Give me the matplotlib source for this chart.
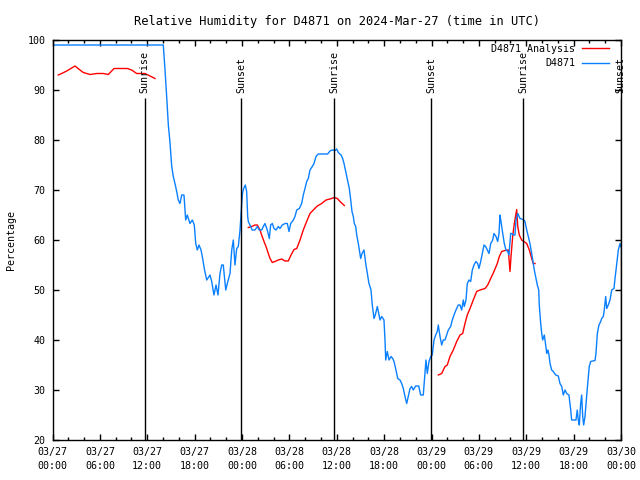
import matplotlib
matplotlib.use('Agg')
import matplotlib.pyplot as plt
import matplotlib.dates as mdates
import numpy as np
import pandas as pd

# Observed relative humidity (hours after 2024-03-27 00:00 UTC, %)
obs_hours = [0.00, 14.03, 14.25, 14.46, 14.67, 14.88, 15.10, 15.30, 15.51, 15.73, 15.93,
             16.15, 16.36, 16.65, 16.87, 17.07, 17.41, 17.71, 17.96, 18.14, 18.34, 18.55,
             18.81, 19.02, 19.22, 19.53, 19.95, 20.16, 20.45, 20.71, 20.96, 21.21, 21.43,
             21.63, 21.94, 22.14, 22.48, 22.70, 22.90, 23.11, 23.33, 23.53, 23.75, 23.94,
             24.06, 24.21, 24.42, 24.59, 24.72, 24.80, 25.10, 25.30, 25.65, 25.94, 26.19,
             26.49, 26.70, 26.91, 27.20, 27.46, 27.63, 27.84, 28.05, 28.31, 28.60, 28.81,
             29.10, 29.45, 29.74, 29.95, 30.17, 30.50, 30.71, 30.93, 31.26, 31.56, 31.76,
             31.98, 32.19, 32.40, 32.61, 32.90, 33.12, 33.37, 33.66, 34.13, 34.85, 35.14,
             35.44, 35.78, 35.99, 36.20, 36.54, 36.75, 36.92, 37.13, 37.34, 37.59, 37.77,
             37.93, 38.10, 38.22, 38.40, 38.53, 38.73, 38.86, 39.03, 39.20, 39.45, 39.67,
             39.87, 40.08, 40.34, 40.50, 40.72, 40.88, 41.14, 41.31, 41.48, 41.69, 41.98,
             42.11, 42.20, 42.40, 42.62, 42.87, 43.09, 43.25, 43.50, 43.72, 44.01, 44.22,
             44.43, 44.64, 44.86, 45.06, 45.28, 45.49, 45.69, 46.00, 46.38, 46.63, 46.96,
             47.18, 47.30, 47.47, 47.68, 47.90, 48.10, 48.32, 48.53, 48.73, 48.86, 49.08,
             49.29, 49.49, 49.71, 49.92, 50.13, 50.43, 50.63, 50.85, 51.10, 51.39, 51.61,
             51.82, 52.03, 52.15, 52.37, 52.53, 52.75, 52.96, 53.17, 53.38, 53.63, 53.85,
             54.01, 54.23, 54.48, 54.65, 54.86, 55.07, 55.28, 55.50, 55.75, 55.91, 56.17,
             56.38, 56.55, 56.67, 56.80, 57.02, 57.22, 57.43, 57.65, 57.81, 58.03, 58.19,
             58.36, 58.57, 58.70, 58.92, 59.21, 59.63, 59.84, 60.06, 60.26, 60.47, 60.69,
             60.89, 61.02, 61.19, 61.40, 61.58, 61.65, 61.83, 61.96, 62.08, 62.29, 62.46,
             62.59, 62.75, 62.88, 63.01, 63.22, 63.42, 63.73, 64.06, 64.27, 64.49, 64.69,
             64.91, 65.12, 65.41, 65.63, 65.75, 66.30, 66.46, 66.59, 66.72, 66.89, 67.02,
             67.15, 67.27, 67.44, 67.57, 67.73, 67.86, 67.98, 68.16, 68.71, 68.83, 69.00,
             69.21, 69.43, 69.55, 69.76, 69.88, 70.06, 70.19, 70.39, 70.61, 70.82, 71.11,
             71.24, 71.37, 71.53, 71.66, 71.88, 71.96]
obs_rh = [99.0, 99.0, 94.0, 88.7, 83.0, 79.5, 74.7, 72.7, 71.3, 69.7, 68.0,
          67.3, 69.0, 69.0, 64.0, 65.0, 63.3, 64.0, 63.0, 59.3, 58.0, 59.0,
          58.0, 56.3, 54.3, 52.0, 53.0, 51.7, 49.0, 51.0, 49.0, 53.3, 55.0,
          55.0, 50.0, 51.3, 53.3, 58.0, 60.0, 55.0, 58.3, 58.7, 62.0, 66.7,
          69.3, 70.3, 71.0, 69.7, 64.7, 63.7, 62.7, 62.0, 62.0, 62.7, 62.0,
          62.0, 62.7, 63.3, 62.0, 60.3, 63.0, 63.3, 62.3, 62.0, 62.7, 62.3,
          63.0, 63.3, 63.3, 61.7, 63.3, 64.0, 64.7, 66.0, 66.3, 67.3, 69.0,
          70.3, 71.7, 72.3, 74.0, 74.7, 75.3, 76.7, 77.2, 77.2, 77.2, 77.8,
          78.0, 77.9, 78.2, 77.5, 77.0, 76.3, 75.3, 73.7, 72.0, 70.3, 68.0,
          65.7, 64.7, 63.3, 62.7, 61.0, 59.3, 58.0, 56.3, 57.3, 58.0, 55.3,
          53.3, 51.3, 50.0, 47.0, 44.3, 45.0, 46.7, 45.3, 44.0, 44.7, 44.0,
          40.0, 36.0, 37.7, 36.0, 36.7, 36.3, 35.7, 34.0, 32.3, 32.0, 31.3,
          30.3, 28.7, 27.3, 28.7, 30.3, 30.7, 30.0, 30.8, 30.8, 29.0, 29.0,
          33.5, 36.0, 33.3, 35.7, 36.7, 37.0, 40.0, 41.0, 41.7, 43.0, 40.7,
          39.0, 40.0, 40.0, 41.0, 42.0, 42.7, 44.0, 45.0, 46.0, 47.0, 47.0,
          46.0, 48.0, 46.7, 48.0, 51.3, 52.0, 51.7, 54.0, 55.0, 55.7, 55.3,
          54.3, 55.7, 57.7, 59.0, 58.7, 58.0, 57.3, 59.3, 60.0, 61.3, 60.7,
          59.7, 61.3, 65.0, 63.7, 61.3, 59.3, 58.0, 57.7, 57.0, 61.3, 61.3,
          61.0, 61.0, 64.0, 65.3, 64.3, 64.1, 63.7, 62.0, 60.7, 59.3, 57.3,
          55.3, 54.0, 52.7, 51.0, 50.0, 47.0, 43.3, 41.3, 40.0, 41.0, 39.0,
          37.3, 38.0, 37.0, 35.3, 34.0, 33.7, 33.0, 32.8, 31.3, 30.7, 29.0,
          30.0, 29.3, 29.0, 26.0, 24.0, 24.0, 26.0, 24.0, 23.0, 27.3, 29.0,
          24.7, 23.0, 24.7, 27.3, 30.3, 32.7, 34.7, 35.7, 35.9, 37.3, 41.3,
          43.0, 43.7, 44.3, 44.7, 46.0, 48.7, 46.3, 47.0, 48.0, 50.0, 50.3,
          52.3, 54.0, 56.3, 58.0, 59.3, 58.7]

# Analysis relative humidity (three separate runs)
ana1_hours = [0.73, 1.16, 1.80, 2.85, 3.40, 3.90, 4.75, 5.60, 6.44, 7.07, 7.79,
              9.48, 10.03, 10.66, 11.71, 12.35, 12.98]
ana1_rh = [93.0, 93.3, 93.8, 94.8, 94.1, 93.5, 93.1, 93.3, 93.3, 93.1, 94.3,
           94.3, 94.0, 93.3, 93.3, 92.8, 92.3]
ana2_hours = [24.80, 25.23, 25.65, 25.94, 26.28, 26.49, 26.79, 27.04, 27.33, 27.55,
              27.84, 28.18, 28.60, 29.03, 29.45, 29.86, 30.21, 30.59, 30.93, 31.35,
              31.76, 32.19, 32.61, 33.03, 33.54, 34.09, 34.64, 35.14, 35.69, 36.07,
              36.41, 36.96]
ana2_rh = [62.5, 62.7, 63.0, 63.0, 62.0, 61.0, 59.7, 58.7, 57.3, 56.3,
           55.5, 55.7, 56.0, 56.2, 55.8, 55.8, 57.0, 58.1, 58.3, 60.0,
           62.0, 63.7, 65.3, 66.0, 66.8, 67.3, 68.0, 68.2, 68.5, 68.3,
           67.7, 66.9]
ana3_hours = [48.86, 49.29, 49.71, 50.00, 50.34, 50.76, 51.19, 51.61, 51.95, 52.24,
              52.53, 52.88, 53.29, 53.72, 54.14, 54.78, 55.12, 55.50, 55.91, 56.33,
              56.59, 56.89, 57.31, 57.73, 57.94, 58.07, 58.28, 58.49, 58.79, 58.92,
              59.12, 59.42, 59.71, 60.06, 60.39, 60.69, 60.89, 61.11]
ana3_rh = [33.0, 33.3, 34.7, 35.0, 36.7, 38.0, 39.7, 41.0, 41.3, 43.3,
           45.0, 46.3, 48.0, 49.7, 50.0, 50.3, 51.0, 52.3, 53.7, 55.3,
           56.7, 57.7, 57.9, 58.0, 53.7, 56.7, 60.7, 63.3, 66.1, 62.7,
           61.0, 60.0, 59.7, 59.3, 58.0, 56.3, 55.3, 55.3]

# Sun events
event_hours = [11.68, 23.91, 35.69, 47.97, 59.63, 71.98]
event_labels = ['Sunrise', 'Sunset', 'Sunrise', 'Sunset', 'Sunrise', 'Sunset']

base = pd.Timestamp('2024-03-27 00:00')


def to_time(hours):
    return base + pd.to_timedelta(np.asarray(hours), unit='h')


plt.rcParams['font.family'] = ['DejaVu Sans Mono']
plt.rcParams['font.size'] = 7.2

fig = plt.figure(figsize=(6.4, 4.8), dpi=100)
ax = fig.add_axes([52.5 / 640, 40 / 480, (621 - 52.5) / 640, 400 / 480])

red = '#ff0000'
blue = '#0a80ff'
ax.plot(to_time(ana1_hours), ana1_rh, color=red, lw=1.0, label='D4871 Analysis')
ax.plot(to_time(ana2_hours), ana2_rh, color=red, lw=1.0)
ax.plot(to_time(ana3_hours), ana3_rh, color=red, lw=1.0)
ax.plot(to_time(obs_hours), obs_rh, color=blue, lw=1.0, label='D4871')

for h, lab in zip(event_hours, event_labels):
    t = to_time([h])[0]
    ax.vlines(t, 20, 88.3, color='black', lw=1.0)
    ax.text(t, 89.3, lab, rotation=90, ha='center', va='bottom', clip_on=False)

ax.set_xlim(base, base + pd.Timedelta(hours=72))
ax.set_ylim(20, 100)
ax.xaxis.set_major_locator(mdates.HourLocator(byhour=range(0, 24, 6)))
ax.xaxis.set_minor_locator(mdates.HourLocator(byhour=range(0, 24, 2)))
ax.xaxis.set_major_formatter(mdates.DateFormatter('%m/%d\n%H:%M'))
ax.set_yticks(range(20, 101, 10))

ax.tick_params(which='both', direction='in', top=True, right=True, width=1.0)
ax.tick_params(which='major', length=4.5, pad=5)
ax.tick_params(which='minor', length=2.5)
for s in ax.spines.values():
    s.set_linewidth(1.0)

ax.set_ylabel('Percentage', labelpad=8)
ax.set_title('Relative Humidity for D4871 on 2024-Mar-27 (time in UTC)', pad=11)

ax.legend(loc='upper right', bbox_to_anchor=(0.991, 1.0075), frameon=False,
          markerfirst=False, handlelength=2.7, handletextpad=0.7,
          labelspacing=0.45, borderaxespad=0.4, borderpad=0.3)

# two-line date labels a bit more spread out
fig.canvas.draw()
for lbl in ax.get_xticklabels():
    lbl.set_linespacing(1.5)

fig.savefig('out.png', dpi=100)
